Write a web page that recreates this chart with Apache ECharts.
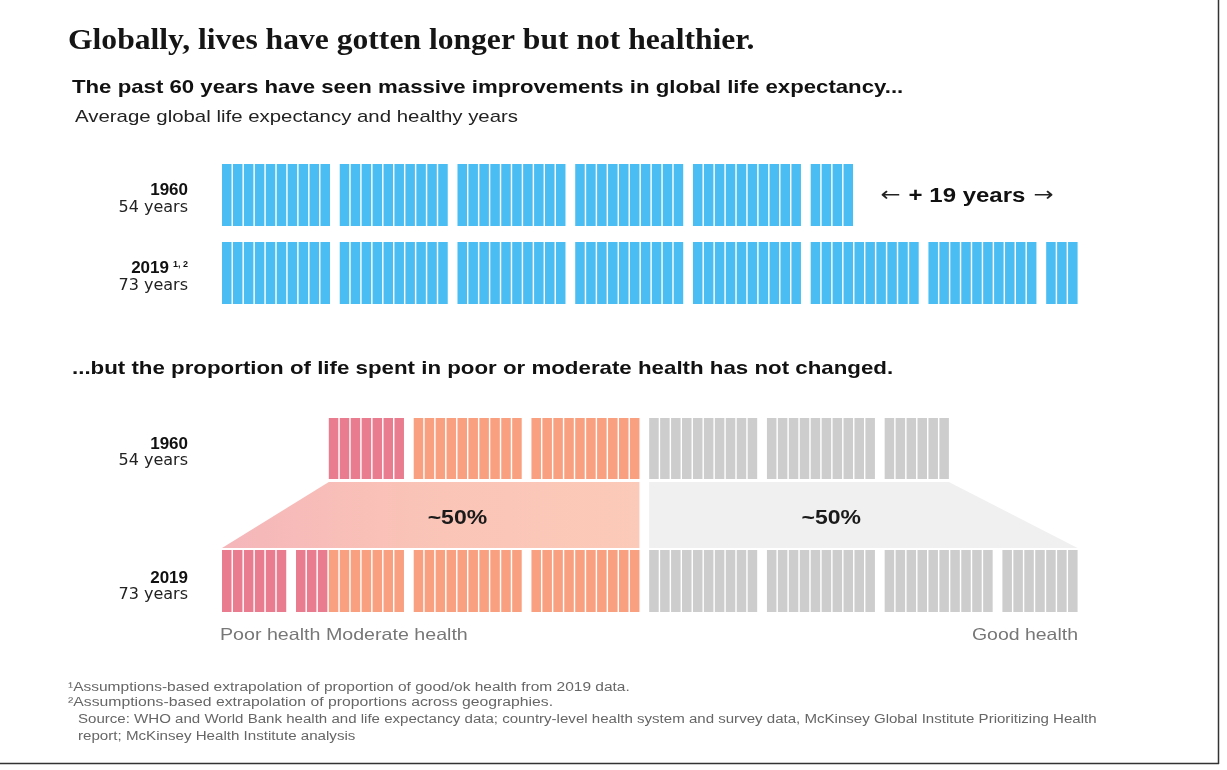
<!DOCTYPE html>
<html><head><meta charset="utf-8">
<script src="https://cdn.jsdelivr.net/npm/echarts@6/dist/echarts.min.js"></script>
<style>html,body{margin:0;padding:0;background:#fff}#c{width:1227px;height:770px}</style>
</head><body><div id="c"></div><script>
// ---------------- data ----------------
const rowYears = ['1960', '2019'];
const lifeExpectancy = [54, 73];          // years of life per row
const poorHealthYears = [7, 9];
const moderateHealthYears = [20, 27];
const goodHealthYears = [26, 37];
const shareLabels = ['~50%', '~50%'];
const yearsPerGroup = 10;
const legendLabels = ['Poor health', 'Moderate health', 'Good health'];

// ---------------- layout helpers ----------------
const GAP = 0.76;     // extra gap between groups, in bar slots
const BAR = 0.87;     // bar width as share of slot
const SANS = '"Liberation Sans", Arial, sans-serif';
const WIDE = '"DejaVu Sans", sans-serif';
const COLORS = { blue: '#4ABEF2', poor: '#E97C8F', moderate: '#F8A07F', good: '#CDCDCD' };

function span(n) { return n + (Math.ceil(n / yearsPerGroup) - 1) * GAP; }
function rightward(n, start) {
  const a = [];
  for (let i = 0; i < n; i++) a.push(start + i + Math.floor(i / yearsPerGroup) * GAP);
  return a;
}
function leftward(n, end) {
  const a = [];
  for (let i = 0; i < n; i++) {
    const k = n - 1 - i;
    a.push(end - (k + 1) - Math.floor(k / yearsPerGroup) * GAP);
  }
  return a;
}
const xMax = span(Math.max(...lifeExpectancy));
const leftEnd = span(poorHealthYears[1] + moderateHealthYears[1]);
const rightStart = leftEnd + GAP;

const lifeRows = lifeExpectancy.map(n => rightward(n, 0).map(u => [u, 0, 'blue']));
const healthRows = rowYears.map((_, r) => {
  const nl = poorHealthYears[r] + moderateHealthYears[r];
  const left = leftward(nl, leftEnd).map((u, i) => [u, 0, i < poorHealthYears[r] ? 'poor' : 'moderate']);
  const right = rightward(goodHealthYears[r], rightStart).map(u => [u, 0, 'good']);
  return left.concat(right);
});
const nl0 = poorHealthYears[0] + moderateHealthYears[0];
const nl1 = poorHealthYears[1] + moderateHealthYears[1];
const bandData = [
  [leftEnd - span(nl0), leftEnd - (1 - BAR), leftEnd - span(nl1), leftEnd - (1 - BAR), 0],
  [rightStart, rightStart + span(goodHealthYears[0]) - (1 - BAR), rightStart, rightStart + span(goodHealthYears[1]) - (1 - BAR), 1]
];

function rowLabel(r, sup) {
  return '{a|' + rowYears[r] + '}' + (sup ? '{s|' + sup + '}' : '') + '\n{b|' + lifeExpectancy[r] + ' years}';
}
const labelRich = {
  a: { fontFamily: SANS, fontSize: 17, fontWeight: 'bold', color: '#111', lineHeight: 17 },
  s: { fontFamily: SANS, fontSize: 9, fontWeight: 'bold', color: '#111', lineHeight: 9, verticalAlign: 'top', padding: [0, 0, 0, 4] },
  b: { fontFamily: WIDE, fontSize: 16, color: '#222', lineHeight: 17 }
};

function barRender(params, api) {
  const p = api.coord([api.value(0), api.value(1)]);
  const sz = api.size([1, 1]);
  return {
    type: 'rect',
    shape: { x: p[0], y: p[1] - sz[1] / 2, width: sz[0] * BAR, height: sz[1] },
    style: { fill: COLORS[api.value(2)] }
  };
}

const rowGrids = [
  { top: 164, height: 62 },
  { top: 242, height: 62 },
  { top: 418, height: 61 },
  { top: 482, height: 66 },   // band
  { top: 550, height: 62 }
];
const grid = rowGrids.map(g => ({ left: 222, width: 857, top: g.top, height: g.height }));
const xAxis = grid.map((_, i) => ({ gridIndex: i, type: 'value', min: 0, max: xMax, show: false }));
const labels = [rowLabel(0), rowLabel(1, '1, 2'), rowLabel(0), null, rowLabel(1)];
const yAxis = labels.map((lab, i) => lab === null
  ? { gridIndex: i, type: 'value', min: 0, max: 1, show: false }
  : {
      gridIndex: i, type: 'category', data: [lab],
      axisLine: { show: false }, axisTick: { show: false }, splitLine: { show: false },
      axisLabel: { margin: 34, formatter: v => v, rich: labelRich, align: 'right', padding: [i === 4 ? 11 : 8, 0, 0, 0] }
    });

const series = [
  { type: 'custom', xAxisIndex: 0, yAxisIndex: 0, data: lifeRows[0], renderItem: barRender, encode: { x: 0, y: 1 } },
  { type: 'custom', xAxisIndex: 1, yAxisIndex: 1, data: lifeRows[1], renderItem: barRender, encode: { x: 0, y: 1 } },
  { type: 'custom', xAxisIndex: 2, yAxisIndex: 2, data: healthRows[0], renderItem: barRender, encode: { x: 0, y: 1 } },
  { type: 'custom', xAxisIndex: 4, yAxisIndex: 4, data: healthRows[1], renderItem: barRender, encode: { x: 0, y: 1 } },
  {
    type: 'custom', xAxisIndex: 3, yAxisIndex: 3, data: bandData, encode: { x: 0, y: 4 },
    renderItem: function (params, api) {
      const tl = api.coord([api.value(0), 1]), tr = api.coord([api.value(1), 1]);
      const bl = api.coord([api.value(2), 0]), br = api.coord([api.value(3), 0]);
      const idx = api.value(4);
      const fill = idx === 0
        ? new echarts.graphic.LinearGradient(0, 0, 1, 0, [
            { offset: 0, color: '#F5B6BA' }, { offset: 0.45, color: '#FAC3B7' }, { offset: 1, color: '#FCCAB8' }])
        : '#F0F0F0';
      const cx = (tl[0] + tr[0] + bl[0] + br[0]) / 4;
      const cy = (tl[1] + bl[1]) / 2 + 3;
      return {
        type: 'group',
        children: [
          { type: 'polygon', shape: { points: [tl, tr, br, bl] }, style: { fill: fill } },
          { type: 'text', x: cx, y: cy, scaleX: 1.15,
            style: { text: shareLabels[idx], x: 0, y: 0, align: 'center', verticalAlign: 'middle',
              font: 'bold 20px ' + SANS, fill: '#1a1a1a' } }
        ]
      };
    }
  }
];

const T = (x, y, text, font, fill, sx, align) => ({
  type: 'text', x: x, y: y, scaleX: sx || 1,
  style: { text: text, font: font, fill: fill || '#111', align: align || 'left', verticalAlign: 'middle' }
});
const graphic = [
  T(68, 42, 'Globally, lives have gotten longer but not healthier.', 'bold 29px "Liberation Serif", "Times New Roman", serif', '#151515', 1.09),
  T(72, 88, 'The past 60 years have seen massive improvements in global life expectancy...', 'bold 18.5px ' + SANS, '#111', 1.2),
  T(75, 117, 'Average global life expectancy and healthy years', '17px ' + SANS, '#222', 1.2),
  T(72, 369, '...but the proportion of life spent in poor or moderate health has not changed.', 'bold 18.5px ' + SANS, '#111', 1.205),
  {
    type: 'text', x: 967, y: 196, scaleX: 1.2,
    style: {
      text: '{ar|←}  {t|+ 19 years}  {ar|→}', align: 'center', verticalAlign: 'middle',
      rich: {
        ar: { font: '20px "DejaVu Sans", sans-serif', fill: '#222' },
        t: { font: 'bold 20px ' + SANS, fill: '#111' }
      }
    }
  },
  T(220, 635, legendLabels[0] + ' ' + legendLabels[1], '16.5px ' + SANS, '#777', 1.19),
  T(1078, 635, legendLabels[2], '16.5px ' + SANS, '#777', 1.18, 'right'),
  T(68, 688, '¹Assumptions-based extrapolation of proportion of good/ok health from 2019 data.', '12.5px ' + SANS, '#666', 1.24),
  T(68, 703, '²Assumptions-based extrapolation of proportions across geographies.', '12.5px ' + SANS, '#666', 1.26),
  T(78, 720, 'Source: WHO and World Bank health and life expectancy data; country-level health system and survey data, McKinsey Global Institute Prioritizing Health', '12.5px ' + SANS, '#666', 1.205),
  T(78, 737, 'report; McKinsey Health Institute analysis', '12.5px ' + SANS, '#666', 1.21),
  { type: 'line', shape: { x1: 1218.5, y1: 0, x2: 1218.5, y2: 764 }, style: { stroke: '#333', lineWidth: 1.5 } },
  { type: 'line', shape: { x1: 0, y1: 763.5, x2: 1219, y2: 763.5 }, style: { stroke: '#333', lineWidth: 1.5 } }
];

const chart = echarts.init(document.getElementById('c'), null, { renderer: 'canvas' });
chart.setOption({ animation: false, backgroundColor: '#fff', grid, xAxis, yAxis, series, graphic });
</script></body></html>
